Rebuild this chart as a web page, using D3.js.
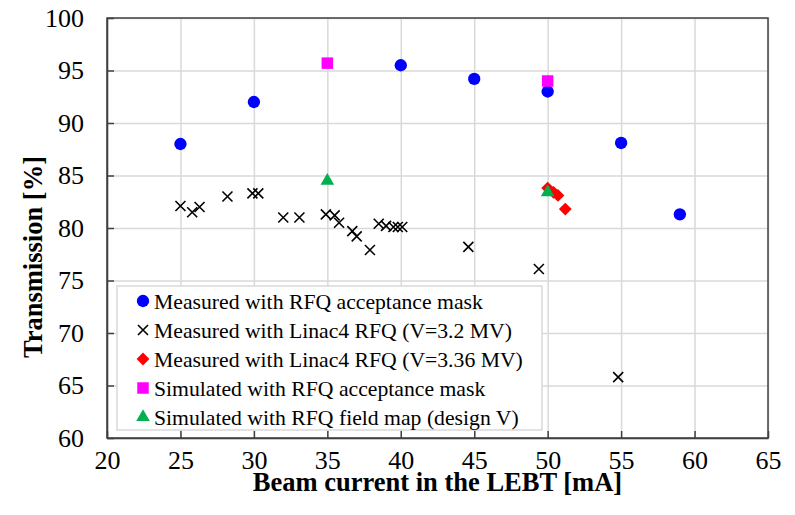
<!DOCTYPE html>
<html>
<head>
<meta charset="utf-8" />
<title>Transmission vs beam current</title>
<script src="https://cdnjs.cloudflare.com/ajax/libs/d3/7.8.5/d3.min.js"></script>
<style>
  body { margin: 0; background: #fff; }
  text { font-family: "Liberation Serif", "Times New Roman", serif; fill: #000; }
</style>
</head>
<body>
<svg id="chart" width="795" height="515"></svg>
<script>
// measured with RFQ acceptance mask
const maskMeasX = [25, 30, 40, 45, 50, 55, 59]
const maskMeasY = [88.0, 92.0, 95.5, 94.2, 93.0, 88.1, 81.3]

// measured with Linac4 RFQ, V=3.2 MV
const rfq32X = [25.0, 25.8, 26.3, 28.2, 29.9, 30.3, 32.0, 33.1, 34.9, 35.5, 35.8, 36.7, 37.0, 37.9,
                38.5, 39.0, 39.5, 39.8, 40.1, 44.6, 49.4, 54.8]
const rfq32Y = [82.1, 81.5, 82.0, 83.0, 83.3, 83.3, 81.0, 81.0, 81.3, 81.2, 80.5, 79.7, 79.2, 77.9,
                80.4, 80.2, 80.1, 80.1, 80.1, 78.2, 76.1, 65.8]

// measured with Linac4 RFQ, V=3.36 MV
const rfq336X = [50.0, 50.4, 50.7, 51.2]
const rfq336Y = [83.8, 83.4, 83.1, 81.8]

// simulated with acceptance mask
const maskSimX = [35, 50]
const maskSimY = [95.7, 94.0]

// simulated with RFQ field map
const fieldSimX = [35, 50]
const fieldSimY = [84.5, 83.4]

const xTicks = [20, 25, 30, 35, 40, 45, 50, 55, 60, 65]
const yTicks = [60, 65, 70, 75, 80, 85, 90, 95, 100]

const legendLabels = [
  'Measured with RFQ acceptance mask',
  'Measured with Linac4 RFQ (V=3.2 MV)',
  'Measured with Linac4 RFQ (V=3.36 MV)',
  'Simulated with RFQ acceptance mask',
  'Simulated with RFQ field map (design V)'
]

const svg = d3.select('#chart')
const plotL = 107, plotR = 768, plotT = 18, plotB = 438
const serif = '"Liberation Serif", "Times New Roman", serif'

const x = d3.scaleLinear().domain([20, 65]).range([plotL, plotR])
const y = d3.scaleLinear().domain([60, 100]).range([plotB, plotT])

// gridlines
svg.append('g')
  .attr('transform', `translate(0,${plotB})`)
  .call(d3.axisBottom(x).tickValues(xTicks).tickSize(-(plotB - plotT)).tickFormat(''))
  .call(g => g.select('.domain').remove())
  .call(g => g.selectAll('line').attr('stroke', '#d9d9d9').attr('stroke-width', 1.5))

svg.append('g')
  .attr('transform', `translate(${plotL},0)`)
  .call(d3.axisLeft(y).tickValues(yTicks).tickSize(-(plotR - plotL)).tickFormat(''))
  .call(g => g.select('.domain').remove())
  .call(g => g.selectAll('line').attr('stroke', '#d9d9d9').attr('stroke-width', 1.5))

// frame
svg.append('rect')
  .attr('x', plotL).attr('y', plotT)
  .attr('width', plotR - plotL).attr('height', plotB - plotT)
  .attr('fill', 'none').attr('stroke', '#404040').attr('stroke-width', 1.5)

// axes with inside ticks
const xAxis = svg.append('g')
  .attr('transform', `translate(0,${plotB})`)
  .call(d3.axisBottom(x).tickValues(xTicks).tickSizeInner(-7).tickSizeOuter(0).tickPadding(13))
  .attr('font-family', serif).attr('font-size', 26)
xAxis.select('.domain').attr('stroke', '#404040').attr('stroke-width', 1.5)
xAxis.selectAll('.tick line').attr('stroke', '#404040').attr('stroke-width', 1.5)
xAxis.selectAll('text').style('font-family', serif).style('font-size', '26px').attr('fill', '#000')

const yAxis = svg.append('g')
  .attr('transform', `translate(${plotL},0)`)
  .call(d3.axisLeft(y).tickValues(yTicks).tickSizeInner(-7).tickSizeOuter(0).tickPadding(23))
  .attr('font-family', serif).attr('font-size', 26)
yAxis.select('.domain').attr('stroke', '#404040').attr('stroke-width', 1.5)
yAxis.selectAll('.tick line').attr('stroke', '#404040').attr('stroke-width', 1.5)
yAxis.selectAll('text').style('font-family', serif).style('font-size', '26px').attr('fill', '#000')

// axis titles
svg.append('text')
  .attr('x', (plotL + plotR) / 2).attr('y', 491)
  .attr('text-anchor', 'middle')
  .style('font-size', '26.5px').style('font-weight', 'bold')
  .text('Beam current in the LEBT [mA]')

svg.append('text')
  .attr('transform', 'translate(42,257) rotate(-90)')
  .attr('text-anchor', 'middle')
  .style('font-size', '26.5px').style('font-weight', 'bold')
  .text('Transmission [%]')

// legend box
svg.append('rect')
  .attr('x', 117).attr('y', 286).attr('width', 425).attr('height', 144)
  .attr('fill', '#fff').attr('stroke', '#d9d9d9').attr('stroke-width', 1.5)

// marker makers
const crossPath = 'M-5,-5L5,5M-5,5L5,-5'
const markers = [
  { path: d3.symbol().type(d3.symbolCircle).size(120)(), fill: '#0000ff', stroke: 'none' },
  { path: crossPath, fill: 'none', stroke: '#000' },
  { path: d3.symbol().type(d3.symbolSquare).size(82)(), fill: '#ff0000', stroke: 'none', rotate: 45 },
  { path: d3.symbol().type(d3.symbolSquare).size(132)(), fill: '#ff00ff', stroke: 'none' },
  { path: d3.symbol().type(d3.symbolTriangle).size(80)(), fill: '#00b050', stroke: 'none' }
]

function drawSeries(xs, ys, m, cls) {
  const pts = xs.map((v, i) => ({ x: v, y: ys[i] }))
  svg.selectAll('path.' + cls)
    .data(pts)
    .enter()
    .append('path')
    .attr('class', cls)
    .attr('d', m.path)
    .attr('transform', d => `translate(${x(d.x)},${y(d.y)}) rotate(${m.rotate || 0})`)
    .attr('fill', m.fill)
    .attr('stroke', m.stroke)
    .attr('stroke-width', 1.6)
}

drawSeries(maskMeasX, maskMeasY, markers[0], 'maskMeas')
drawSeries(rfq32X, rfq32Y, markers[1], 'rfq32')
drawSeries(rfq336X, rfq336Y, markers[2], 'rfq336')
drawSeries(maskSimX, maskSimY, markers[3], 'maskSim')
drawSeries(fieldSimX, fieldSimY, markers[4], 'fieldSim')

// legend entries
const legend = svg.append('g')
legendLabels.forEach((label, i) => {
  const ly = 301 + i * 29
  const m = markers[i]
  legend.append('path')
    .attr('d', m.path)
    .attr('transform', `translate(143,${ly}) rotate(${m.rotate || 0})`)
    .attr('fill', m.fill)
    .attr('stroke', m.stroke)
    .attr('stroke-width', 1.6)
  legend.append('text')
    .attr('x', 154).attr('y', ly)
    .attr('dy', '0.35em')
    .style('font-size', '21.7px')
    .text(label)
})
</script>
</body>
</html>
